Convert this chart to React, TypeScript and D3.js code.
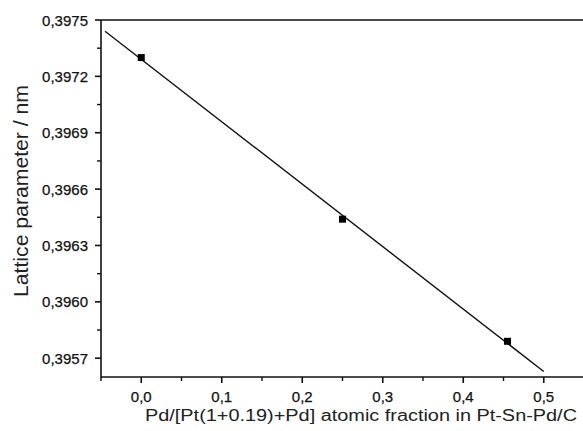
import React from "react";
import * as d3 from "d3";

const xValues = [0.0, 0.25, 0.455];
const yValues = [0.3973, 0.39644, 0.39579];
const xTicks = [0, 0.1, 0.2, 0.3, 0.4, 0.5];
const yTicks = [0.3957, 0.396, 0.3963, 0.3966, 0.3969, 0.3972, 0.3975];
const fitRange = [-0.045, 0.5];
const xTitle = "Pd/[Pt(1+0.19)+Pd] atomic fraction in Pt-Sn-Pd/C";
const yTitle = "Lattice parameter / nm";

const W = 583;
const H = 431;
const left = 101;
const right = 584;
const top = 20;
const bottom = 377;
const font = "'Liberation Sans', Arial, sans-serif";

export default function App() {
  const x = d3.scaleLinear().domain([-0.05, 0.55]).range([left, right]);
  const y = d3.scaleLinear().domain([0.3956, 0.3975]).range([bottom, top]);

  // least-squares fit
  const mx = d3.mean(xValues)!;
  const my = d3.mean(yValues)!;
  const sxy = d3.sum(xValues.map((v, i) => (v - mx) * (yValues[i] - my)));
  const sxx = d3.sum(xValues.map((v) => (v - mx) ** 2));
  const slope = sxy / sxx;
  const icpt = my - slope * mx;
  const fitPts: [number, number][] = fitRange.map((v) => [v, icpt + slope * v]);
  const line = d3
    .line<[number, number]>()
    .x((d) => x(d[0]))
    .y((d) => y(d[1]));

  const xMinor = d3.range(-0.05, 0.551, 0.05).filter((v) => !xTicks.some((t) => Math.abs(t - v) < 1e-6));
  const yMinor = d3.range(0.39555, 0.3975, 0.00015).filter(
    (v) => v > 0.3956 && !yTicks.some((t) => Math.abs(t - v) < 1e-8)
  );
  const fmtX = (v: number) => d3.format(".1f")(v).replace(".", ",");
  const fmtY = (v: number) => d3.format(".4f")(v).replace(".", ",");

  return (
    <svg width={W} height={H} style={{ position: "absolute", left: 0, top: 0, background: "#fff" }}>
      <rect x={0} y={0} width={W} height={H} fill="#fff" />
      {/* frame */}
      <line x1={left} x2={W} y1={top} y2={top} stroke="#111" strokeWidth={1.6} />
      <line x1={left} x2={W} y1={bottom} y2={bottom} stroke="#111" strokeWidth={1.6} />
      <line x1={left} x2={left} y1={top} y2={bottom + 0.8} stroke="#111" strokeWidth={1.6} />
      {/* x ticks */}
      {xTicks.map((t) => (
        <g key={"xt" + t}>
          <line x1={x(t)} x2={x(t)} y1={bottom} y2={bottom + 6} stroke="#111" strokeWidth={1.6} />
          <text x={x(t)} y={402} textAnchor="middle" fontFamily={font} fontSize={15} fill="#111" stroke="#111" strokeWidth={0.25}>
            {fmtX(t)}
          </text>
        </g>
      ))}
      {xMinor.map((t) => (
        <line key={"xm" + t} x1={x(t)} x2={x(t)} y1={bottom} y2={bottom + 4} stroke="#111" strokeWidth={1.4} />
      ))}
      {/* y ticks */}
      {yTicks.map((t) => (
        <g key={"yt" + t}>
          <line x1={left - 6} x2={left} y1={y(t)} y2={y(t)} stroke="#111" strokeWidth={1.6} />
          <text x={88} y={y(t) + 5.5} textAnchor="end" fontFamily={font} fontSize={15} fill="#111" stroke="#111" strokeWidth={0.25}>
            {fmtY(t)}
          </text>
        </g>
      ))}
      {yMinor.map((t) => (
        <line key={"ym" + t} x1={left - 4} x2={left} y1={y(t)} y2={y(t)} stroke="#111" strokeWidth={1.4} />
      ))}
      {/* fit line */}
      <path d={line(fitPts) || ""} fill="none" stroke="#111" strokeWidth={1.4} />
      {/* points */}
      {xValues.map((v, i) => (
        <rect key={"p" + i} x={x(v) - 3.5} y={y(yValues[i]) - 3.5} width={7} height={7} fill="#000" />
      ))}
      {/* titles */}
      <text
        x={361}
        y={421}
        textAnchor="middle"
        fontFamily={font}
        fontSize={16}
        fill="#222"
        textLength={432}
        lengthAdjust="spacingAndGlyphs"
      >
        {xTitle}
      </text>
      <text
        transform={`translate(28, 191) rotate(-90)`}
        textAnchor="middle"
        fontFamily={font}
        fontSize={20}
        fill="#222"
        textLength={212}
        lengthAdjust="spacingAndGlyphs"
      >
        {yTitle}
      </text>
    </svg>
  );
}
